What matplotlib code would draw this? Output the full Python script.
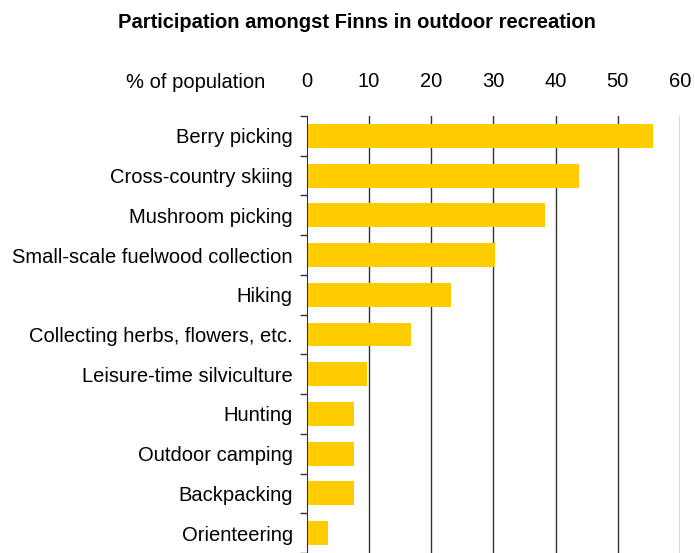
import matplotlib.pyplot as plt

plt.rcParams['font.family'] = ['Liberation Sans', 'DejaVu Sans']

activities = ["Berry picking", "Cross-country skiing", "Mushroom picking",
              "Small-scale fuelwood collection", "Hiking",
              "Collecting herbs, flowers, etc.", "Leisure-time silviculture",
              "Hunting", "Outdoor camping", "Backpacking", "Orienteering"]
percent = [55.6, 43.7, 38.3, 30.2, 23.2, 16.7, 9.7, 7.6, 7.6, 7.6, 3.4]
xticks = [0, 10, 20, 30, 40, 50, 60]

fig = plt.figure(figsize=(6.95, 5.53), dpi=100)
ax = fig.add_axes([0.4413, 0.0, 0.5371, 0.7902])

ypos = list(range(len(activities)))
ax.barh(ypos, percent, height=0.6, color='#FFCC00', zorder=2)

ax.set_xlim(0, 60)
ax.set_ylim(10.425, -0.5)
ax.set_xticks(xticks)
ax.xaxis.tick_top()
ax.tick_params(axis='x', length=0, pad=18, labelsize=14.5)
ax.set_yticks(ypos)
ax.set_yticklabels(activities)
ax.tick_params(axis='y', which='major', length=0, pad=10, labelsize=14.5)
ax.set_yticks([y - 0.5 for y in ypos] + [10.5], minor=True)
ax.tick_params(axis='y', which='minor', length=5, color='#333333', width=1)

for x in xticks[1:]:
    ax.axvline(x, color='#333333', lw=1, zorder=1)

for s in ['top', 'right', 'bottom']:
    ax.spines[s].set_visible(False)
ax.spines['left'].set_color('#333333')

fig.text(196 / 695, 1 - 82 / 553, "% of population", ha='center', va='center', fontsize=14.5)
fig.text(357 / 695, 1 - 23 / 553, "Participation amongst Finns in outdoor recreation",
         ha='center', va='center', fontsize=14.5, fontweight='bold')

fig.savefig('out.png', dpi=100)
